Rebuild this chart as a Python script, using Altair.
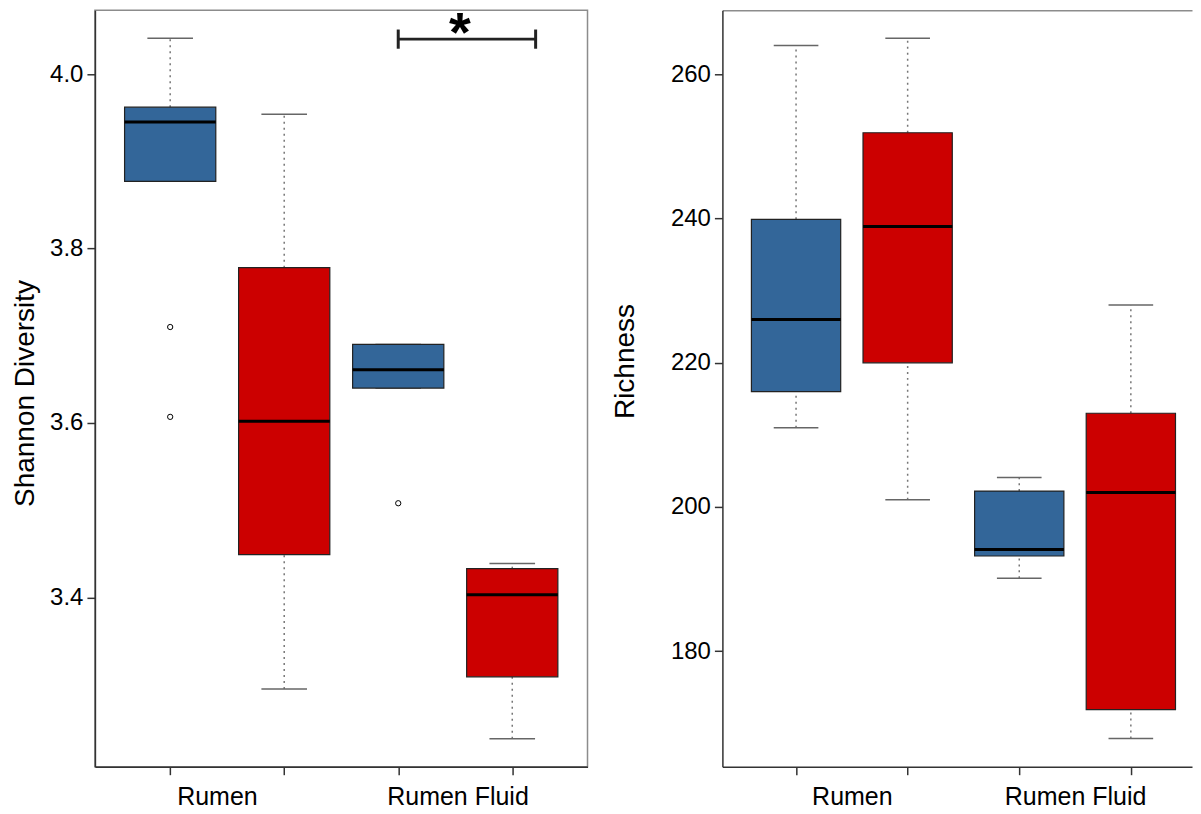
import altair as alt
import pandas as pd

FONT = "Liberation Sans"

# ---- data ----
positions = [1, 2, 3, 4]
fills = ["#336699", "#CC0000", "#336699", "#CC0000"]
x_ticks = [1, 2, 3, 4]
x_names = ["Rumen", "Rumen Fluid"]

# Shannon diversity (left panel)
sh_lower = [3.877, 3.295, 3.640, 3.238]
sh_q1 = [3.877, 3.449, 3.640, 3.309]
sh_median = [3.945, 3.602, 3.661, 3.403]
sh_q3 = [3.962, 3.778, 3.690, 3.433]
sh_upper = [4.041, 3.954, 3.690, 3.439]
sh_out_pos = [1, 1, 3]
sh_out_val = [3.710, 3.607, 3.508]
sh_domain = [3.206, 4.073]
sh_ticks = [3.4, 3.6, 3.8, 4.0]
sh_label_pos = [1.41, 3.52]
sh_xdomain = [0.34, 4.66]

# significance bracket
bracket_x = [3.0, 4.205]
bracket_y = [4.040]
bracket_ends = [4.029, 4.051]
star_x = [3.54]
star_y = [4.077]

# Richness (right panel, cut off at the right edge like the original)
ri_lower = [211.0, 201.0, 190.1, 167.9]
ri_q1 = [216.0, 220.0, 193.2, 171.9]
ri_median = [226.0, 238.9, 194.1, 202.0]
ri_q3 = [239.9, 251.9, 202.2, 213.0]
ri_upper = [264.0, 265.0, 204.1, 228.0]
ri_domain = [163.98, 268.88]
ri_ticks = [180, 200, 220, 240, 260]
ri_label_pos = [1.5, 3.5]
ri_xdomain = [0.34, 4.548]

H = 757


def make_panel(lower, q1, med, q3, upper, out_pos, out_val, ydomain, yticks,
               yfmt, ytitle, title_y, label_pos, title_pad, width, xdomain,
               extra=None, open_right=False):
    boxes = pd.DataFrame({"pos": positions, "fill": fills, "lower": lower,
                          "q1": q1, "median": med, "q3": q3, "upper": upper})
    outl = pd.DataFrame({"pos": out_pos, "value": out_val})

    test = " || ".join(f"datum.value == {v}" for v in label_pos)
    lab_expr = (f"datum.value == {label_pos[0]} ? '{x_names[0]}' : "
                f"datum.value == {label_pos[1]} ? '{x_names[1]}' : ''")
    xaxis = alt.Axis(values=sorted(x_ticks + label_pos), labelExpr=lab_expr,
                     tickOpacity={"condition": {"test": test, "value": 0}, "value": 1},
                     labelOverlap=False, labelFlush=False, grid=False, title=None,
                     orient="bottom",
                     tickSize=8, tickWidth=1.5, tickColor="#333",
                     domainColor="#333", domainWidth=1.5,
                     labelFontSize=25, labelPadding=10, labelColor="black")
    xscale = alt.Scale(domain=xdomain, nice=False, zero=False)
    yaxis = alt.Axis(values=yticks, format=yfmt, title=ytitle, grid=False,
                     tickSize=8, tickWidth=1.5, tickColor="#333",
                     domainColor="#333", domainWidth=1.5,
                     labelFontSize=24, labelPadding=4, labelColor="black",
                     titleFontSize=28, titleFontWeight="normal", titleColor="black",
                     titlePadding=title_pad, titleY=title_y)
    yscale = alt.Scale(domain=ydomain, nice=False, zero=False)

    state = {"first": True}

    def X(f):
        if open_right and not state["first"]:
            return alt.X(f"{f}:Q", scale=xscale, axis=None)
        state["first"] = False
        return alt.X(f"{f}:Q", scale=xscale, axis=xaxis)

    def Y(f):
        return alt.Y(f"{f}:Q", scale=yscale, axis=yaxis)

    base = alt.Chart(boxes).transform_calculate(
        clo="datum.pos - 0.2", chi="datum.pos + 0.2",
        blo="datum.pos - 0.4", bhi="datum.pos + 0.4")

    w_up = base.mark_rule(color="#777", strokeWidth=1.5, strokeDash=[2, 4]).encode(
        x=X("pos"), y=Y("q3"), y2="upper")
    w_lo = base.mark_rule(color="#777", strokeWidth=1.5, strokeDash=[2, 4]).encode(
        x=X("pos"), y=Y("lower"), y2="q1")
    c_up = base.mark_rule(color="#666", strokeWidth=1.5).encode(
        x=X("clo"), x2="chi", y=Y("upper"))
    c_lo = base.mark_rule(color="#666", strokeWidth=1.5).encode(
        x=X("clo"), x2="chi", y=Y("lower"))
    box = base.mark_rect(stroke="#222", strokeWidth=1.2).encode(
        x=X("blo"), x2="bhi", y=Y("q1"), y2="q3",
        color=alt.Color("fill:N", scale=None))
    medl = base.mark_rule(color="black", strokeWidth=3).encode(
        x=X("blo"), x2="bhi", y=Y("median"))
    layers = [w_up, w_lo, c_up, c_lo, box, medl]
    if len(out_pos):
        pts = alt.Chart(outl).mark_point(shape="circle", filled=False, color="black",
                                         size=28, strokeWidth=1, opacity=1).encode(
            x=X("pos"), y=Y("value"))
        layers.append(pts)
    if extra is not None:
        layers += extra(X, Y)
    if open_right:
        top_axis = alt.Axis(orient="top", ticks=False, labels=False, grid=False,
                            title=None, domainColor="#8c8c8c", domainWidth=1.5)
        top = base.mark_rule(opacity=0).encode(
            x=alt.X("pos:Q", scale=xscale, axis=top_axis))
        layers.append(top)
        return alt.layer(*layers).resolve_axis(x="independent").properties(
            width=width, height=H,
            view=alt.ViewBackground(stroke="transparent"))
    return alt.layer(*layers).properties(width=width, height=H)


def bracket(X, Y):
    hb = pd.DataFrame({"x1": [bracket_x[0]], "x2": [bracket_x[1]], "y": bracket_y})
    vb = pd.DataFrame({"x": bracket_x, "y1": [bracket_ends[0]] * 2,
                       "y2": [bracket_ends[1]] * 2})
    st = pd.DataFrame({"x": star_x, "y": star_y, "t": ["*"]})
    h = alt.Chart(hb).mark_rule(color="#222", strokeWidth=3).encode(
        x=X("x1"), x2="x2", y=Y("y"))
    v = alt.Chart(vb).mark_rule(color="#222", strokeWidth=3).encode(
        x=X("x"), y=Y("y1"), y2="y2")
    s = alt.Chart(st).mark_text(fontSize=56, fontWeight="bold", font=FONT,
                                baseline="top", align="center", clip=True,
                                color="black").encode(x=X("x"), y=Y("y"), text="t:N")
    return [h, v, s]


left = make_panel(sh_lower, sh_q1, sh_median, sh_q3, sh_upper, sh_out_pos, sh_out_val,
                  sh_domain, sh_ticks, ".1f", "Shannon Diversity", 383, sh_label_pos,
                  10, 493, sh_xdomain, extra=bracket)
right = make_panel(ri_lower, ri_q1, ri_median, ri_q3, ri_upper, [], [],
                   ri_domain, ri_ticks, "d", "Richness", 351, ri_label_pos,
                   31, 470, ri_xdomain, open_right=True)

chart = alt.hconcat(left, right, spacing=22,
                    padding={"left": 2, "top": 1, "right": 0, "bottom": 0}
                    ).configure_view(stroke="#8c8c8c", strokeWidth=1.5
                    ).configure_axis(labelFont=FONT, titleFont=FONT)

chart.save("out.html", embed_options={"renderer": "svg", "actions": False})
